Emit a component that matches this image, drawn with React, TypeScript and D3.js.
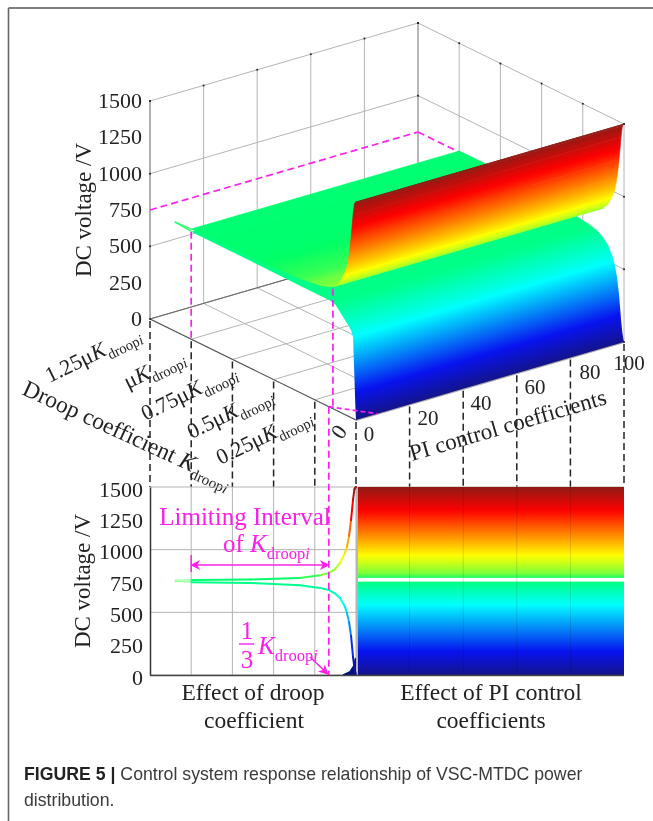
import React, { useEffect, useRef } from 'react';
import * as d3 from 'd3';

// values
const voltageTicks = [0, 250, 500, 750, 1000, 1250, 1500];
const voltageGrid = [0, 500, 1000, 1500];
const piTicks = [0, 20, 40, 60, 80, 100];
const droopTicks = [0, 0.25, 0.5, 0.75, 1, 1.25];
const droopPrefixes = ['', '0.25μ', '0.5μ', '0.75μ', 'μ', '1.25μ'];

// surface edges as they show in the 3D view (at PI = 0, the far edge follows the 2D curves)
const surfaceDroop = [1, 0.64, 0.34, 0.22, 0.164, 0.127, 0.097, 0.067, 0.055, 0.042, 0.03, 0.018, 0.01, 0.004, 0];
const upperVoltage = [758, 764, 785, 805, 825, 850, 894, 975, 1021, 1110, 1237, 1400, 1480, 1495, 1500];
const lowerSurfaceVoltage = [740, 738, 735, 735, 735, 725, 690, 650, 635, 620, 600, 560, 300, 100, 0];

// curves in the lower 2D panel
const panelUpperVoltage = [758, 762, 774, 795, 814, 845, 894, 975, 1021, 1110, 1237, 1400, 1480, 1495, 1500];
const panelLowerVoltage = [740, 734, 716, 695, 678, 650, 614, 545, 495, 420, 311, 144, 60, 20, 0];
const tipDroop = [1.1, 1];
const tipVoltage = [752, 750];
const baseDroop = [0.08, 0.04, 0.02, 0.008, 0];
const baseVoltage = [6, 30, 70, 130, 140];

const heatUpperRange = [775, 1500];
const heatLowerRange = [0, 745];
const droopLimit = 0.165;
const droopLip = 0.14;
const limitVoltage = 750;

const MAGENTA = '#fa20ea';
const SERIF = '"Liberation Serif", serif';

const colorScale = d3
  .scaleLinear<string>()
  .domain([0, 187, 562, 745, 770, 800, 950, 1312, 1500])
  .range(['#14148a', '#0812f0', '#00ffff', '#00ff80', '#00ff66', '#70ff40', '#ffff00', '#ff0000', '#8f1a14'])
  .clamp(true);

// the 3D box is a plain linear projection
const piX = d3.scaleLinear().domain([0, 100]).range([0, 268]);
const piY = d3.scaleLinear().domain([0, 100]).range([0, -78]);
const droopX = d3.scaleLinear().domain([0, 1.25]).range([0, -206]);
const droopY = d3.scaleLinear().domain([0, 1.25]).range([0, -101]);
const voltY = d3.scaleLinear().domain([0, 1500]).range([0, -218]);
const project = (pi: number, droop: number, v: number): [number, number] => [
  356 + piX(pi) + droopX(droop),
  420 + piY(pi) + droopY(droop) + voltY(v),
];

const panelX = (droop: number) => 356 + droopX(droop);
const panelY = d3.scaleLinear().domain([0, 1500]).range([675, 487]);

let gradId = 0;

const App = () => {
  const svgRef = useRef<SVGSVGElement>(null);

  useEffect(() => {
    d3.select(svgRef.current).selectAll('*').remove();
    const svg = d3.select(svgRef.current);
    const defs = svg.append('defs');
    const line = d3.line();

    const seg = (g: any, a: number[], b: number[], stroke: string, w: number, dash?: string) =>
      g
        .append('line')
        .attr('x1', a[0])
        .attr('y1', a[1])
        .attr('x2', b[0])
        .attr('y2', b[1])
        .attr('stroke', stroke)
        .attr('stroke-width', w)
        .attr('stroke-dasharray', dash || null);

    // frame
    seg(svg, [8.5, 8], [653, 8], '#555', 1.6);
    seg(svg, [8.5, 8], [8.5, 821], '#666', 1.6);

    // 3D grid
    const grid = svg.append('g');
    const GRID = '#b4b4b4';
    voltageGrid.forEach((v) => {
      seg(grid, project(0, 1.25, v), project(100, 1.25, v), GRID, 1);
      seg(grid, project(100, 1.25, v), project(100, 0, v), GRID, 1);
    });
    piTicks.forEach((p) => {
      seg(grid, project(p, 1.25, 0), project(p, 1.25, 1500), p === 100 ? '#777' : GRID, 1);
      seg(grid, project(p, 0, 0), project(p, 1.25, 0), GRID, 1);
    });
    droopTicks.forEach((d) => {
      seg(grid, project(100, d, 0), project(100, d, 1500), GRID, 1);
      seg(grid, project(0, d, 0), project(100, d, 0), GRID, 1);
    });
    seg(grid, project(0, 1.25, 0), project(0, 1.25, 1500), '#888', 1);
    seg(grid, project(0, 1.25, 0), project(100, 1.25, 0), '#666', 1);
    seg(grid, project(0, 1.25, 0), project(0, 0, 0), '#555', 1.1);
    seg(grid, project(0, 0, 0), project(100, 0, 0), '#aaa', 2);

    // tick dots on the top edges
    const dots = piTicks
      .map((p) => project(p, 1.25, 1500))
      .concat(droopTicks.map((d) => project(100, d, 1500)))
      .concat(voltageGrid.map((v) => project(100, 1.25, v)))
      .concat(voltageGrid.map((v) => project(100, 0, v)))
      .concat(voltageGrid.map((v) => project(0, 1.25, v)));
    grid
      .selectAll('circle')
      .data(dots)
      .enter()
      .append('circle')
      .attr('cx', (d) => d[0])
      .attr('cy', (d) => d[1])
      .attr('r', 1)
      .attr('fill', '#222');

    // limit level on the back walls
    const dashM = '7 4';
    seg(svg, project(0, 1.25, limitVoltage), project(100, 1.25, limitVoltage), MAGENTA, 1.7, dashM);
    seg(svg, project(100, 1.25, limitVoltage), project(100, 0.75, limitVoltage), MAGENTA, 1.7, dashM);

    const nx = 78 / Math.hypot(78, 268);
    const ny = 268 / Math.hypot(78, 268);

    // lower sheet: one outline, colour runs across the PI direction
    const drawLowerSurface = () => {
      const near = surfaceDroop.map((d, i) => project(0, d, lowerSurfaceVoltage[i]));
      const far = surfaceDroop.map((d, i) => project(100, d, panelLowerVoltage[i]));
      const first = near[0];
      const last = near[near.length - 1];
      const total = (last[0] - first[0]) * nx + (last[1] - first[1]) * ny;
      const gr = defs
        .append('linearGradient')
        .attr('id', 'lowerSheet')
        .attr('gradientUnits', 'userSpaceOnUse')
        .attr('x1', first[0])
        .attr('y1', first[1])
        .attr('x2', first[0] + total * nx)
        .attr('y2', first[1] + total * ny);
      const offset = (p: number[]) => ((p[0] - first[0]) * nx + (p[1] - first[1]) * ny) / total;
      near.forEach((p, i) => {
        if (i === near.length - 1) {
          gr.append('stop').attr('offset', 1).attr('stop-color', colorScale(0));
          return;
        }
        const q = near[i + 1];
        const val = d3.interpolateNumber(lowerSurfaceVoltage[i], lowerSurfaceVoltage[i + 1]);
        const off = d3.interpolateNumber(offset(p), offset(q));
        d3.range(0, 0.99, 0.1).forEach((t) => {
          gr.append('stop').attr('offset', off(t)).attr('stop-color', colorScale(val(t)));
        });
      });
      svg
        .append('path')
        .attr('d', line.curve(d3.curveLinearClosed)(near.concat(far.slice().reverse())))
        .attr('fill', 'url(#lowerSheet)');
    };

    // upper sheet: every droop strip runs over the whole PI range
    const drawUpperSurface = () => {
      const g = svg.append('g');
      for (let i = 0; i < surfaceDroop.length - 1; i++) {
        const d0 = surfaceDroop[i];
        const d1 = surfaceDroop[i + 1];
        const v0 = upperVoltage[i];
        const v1 = upperVoltage[i + 1];
        const a = project(0, d0, v0);
        const b = project(0, d1, v1);
        const along = (b[0] - a[0]) * nx + (b[1] - a[1]) * ny;
        const id = `strip${gradId++}`;
        const gr = defs
          .append('linearGradient')
          .attr('id', id)
          .attr('gradientUnits', 'userSpaceOnUse')
          .attr('x1', a[0])
          .attr('y1', a[1])
          .attr('x2', a[0] + along * nx)
          .attr('y2', a[1] + along * ny);
        const val = d3.interpolateNumber(v0, v1);
        d3.range(0, 1.01, 0.1).forEach((t) => {
          gr.append('stop').attr('offset', t).attr('stop-color', colorScale(val(t)));
        });
        const fill = Math.abs(along) < 0.5 ? colorScale((v0 + v1) / 2) : `url(#${id})`;
        g.append('path')
          .attr('d', line.curve(d3.curveLinearClosed)([a, project(100, d0, v0), project(100, d1, v1), b]))
          .attr('fill', fill)
          .attr('stroke', fill)
          .attr('stroke-width', 0.6);
      }
    };
    drawLowerSurface();
    drawUpperSurface();

    // little tip on the far end of the green sheet
    seg(svg, project(0, tipDroop[0], tipVoltage[0]), project(0, tipDroop[1], tipVoltage[1] + 8), '#30ff70', 1.4);
    seg(svg, project(0, tipDroop[0], tipVoltage[0]), project(0, tipDroop[1], tipVoltage[1] - 8), '#30ff70', 1.4);

    // magenta drops from the surface
    seg(svg, project(0, 1, 740), project(0, 1, 0), MAGENTA, 1.7, dashM);
    seg(svg, project(0, droopLip, 825), project(0, droopLip, 20), MAGENTA, 1.7, dashM);
    seg(svg, project(0, droopLimit, 0), project(8, 0, 0), MAGENTA, 1.7, '5 3');

    // black drop lines towards the lower panel
    const drops = svg.append('g');
    droopTicks.forEach((d) => {
      const p = project(0, d, 0);
      seg(drops, [p[0], p[1] + 2], [p[0], panelY(1500)], '#222', 1.5, '7 4');
    });
    piTicks.slice(1).forEach((t) => {
      const p = project(t, 0, 0);
      seg(drops, [p[0], p[1] + 2], [p[0], panelY(1500)], '#222', 1.5, '7 4');
    });

    const label = (txt: string, x: number, y: number, size: number, anchor = 'middle', rotate = 0) =>
      svg
        .append('text')
        .attr('transform', `translate(${x},${y}) rotate(${rotate})`)
        .attr('text-anchor', anchor)
        .attr('font-family', SERIF)
        .attr('font-size', size)
        .attr('fill', '#222')
        .text(txt);

    // adds K with droop_i subscript to a text element
    const addK = (t: any, size: number) => {
      t.append('tspan').attr('font-style', 'italic').text('K');
      t.append('tspan').attr('font-size', size * 0.66).attr('dy', size * 0.26).text('droop');
      t.append('tspan').attr('font-size', size * 0.66).attr('font-style', 'italic').text('i');
      return t;
    };

    // 3D voltage axis
    voltageTicks.forEach((v) => {
      const p = project(0, 1.25, v);
      label(String(v), p[0] - 8, p[1] + 7, 22, 'end');
    });
    label('DC voltage /V', 91, 210, 23, 'middle', -90);

    // droop tick labels
    const droopAnchors = [
      [0, 0],
      [313, 420],
      [274, 399],
      [238, 376],
      [186, 361],
      [142, 338],
    ];
    droopPrefixes.forEach((pre, i) => {
      if (i === 0) return;
      const t = label(pre, droopAnchors[i][0], droopAnchors[i][1], 22, 'end', -26);
      addK(t, 22);
    });
    label('0', 345, 436, 22, 'middle', -55);

    const piAnchors = [369, 428, 481, 535, 590, 629];
    piTicks.forEach((p, i) => {
      label(String(p), piAnchors[i], project(p, 0, 0)[1] + (i === 5 ? 28 : 21), 21);
    });
    label('PI control coefficients', 412, 461, 23, 'start', -16.3);

    const droopTitle = label('Droop coefficient ', 21, 394, 23.5, 'start', 24.6);
    addK(droopTitle, 23);

    // lower panel
    const panel = svg.append('g');
    voltageGrid.forEach((v) => seg(panel, [150, panelY(v)], [624, panelY(v)], GRID, 1));
    droopTicks.slice(0, 5).forEach((d) => seg(panel, [panelX(d), 487], [panelX(d), 675], GRID, 1));

    // heat map view of the surface
    const addHeat = (range: number[], id: string) => {
      const gr = defs
        .append('linearGradient')
        .attr('id', id)
        .attr('x1', 0)
        .attr('y1', 1)
        .attr('x2', 0)
        .attr('y2', 0);
      const val = d3.interpolateNumber(range[0], range[1]);
      d3.range(0, 1.001, 0.05).forEach((t) => {
        gr.append('stop').attr('offset', t).attr('stop-color', colorScale(val(t)));
      });
      panel
        .append('rect')
        .attr('x', 358)
        .attr('y', panelY(range[1]))
        .attr('width', 266)
        .attr('height', panelY(range[0]) - panelY(range[1]))
        .attr('fill', `url(#${id})`);
    };
    addHeat(heatUpperRange, 'heatUp');
    addHeat(heatLowerRange, 'heatLow');
    panel.append('rect').attr('x', 356).attr('y', 487).attr('width', 2).attr('height', 188).attr('fill', '#b5b5b5');
    piTicks.slice(1, 5).forEach((t) => {
      const x = project(t, 0, 0)[0];
      seg(panel, [x, 487], [x, 675], '#000', 0.5).attr('opacity', 0.25);
    });

    // blue foot at the bottom of the 2D curve
    panel
      .append('path')
      .attr(
        'd',
        d3
          .area<number>()
          .x((d) => panelX(d))
          .y0(panelY(0))
          .y1((_, i) => panelY(baseVoltage[i]))(baseDroop)
      )
      .attr('fill', '#00107f');

    // 2D curves, coloured piece by piece
    const drawCurve = (vals: number[]) => {
      for (let i = 0; i < surfaceDroop.length - 1; i++) {
        seg(
          panel,
          [panelX(surfaceDroop[i]), panelY(vals[i])],
          [panelX(surfaceDroop[i + 1]), panelY(vals[i + 1])],
          colorScale((vals[i] + vals[i + 1]) / 2),
          2
        ).attr('stroke-linecap', 'round');
      }
    };
    drawCurve(panelUpperVoltage);
    drawCurve(panelLowerVoltage);
    seg(panel, [panelX(tipDroop[0]), panelY(tipVoltage[0] + 6)], [panelX(tipDroop[1]), panelY(tipVoltage[1] + 8)], '#80ff90', 1);
    seg(panel, [panelX(tipDroop[0]), panelY(tipVoltage[0] - 6)], [panelX(tipDroop[1]), panelY(tipVoltage[1] - 8)], '#80ff90', 1);

    const yAxis = svg
      .append('g')
      .attr('transform', 'translate(150,0)')
      .call(d3.axisLeft(panelY).tickValues(voltageTicks).tickSize(0).tickPadding(7).tickFormat(d3.format('d')));
    yAxis.select('.domain').attr('stroke', '#333').attr('stroke-width', 1.5);
    yAxis
      .selectAll('text')
      .attr('font-family', SERIF)
      .attr('font-size', 22)
      .attr('fill', '#222')
      .attr('dy', '0.42em');
    seg(svg, [150, 675.5], [624, 675.5], '#444', 1.4);
    label('DC voltage /V', 90, 581, 23, 'middle', -90);
    label('Effect of droop', 253, 700, 23.5);
    label('coefficient', 254, 728, 23.5);
    label('Effect of PI control', 491, 700, 23.5);
    label('coefficients', 491, 728, 23.5);

    // magenta annotations
    const limitX = panelX(droopLimit);
    seg(svg, project(0, droopLimit, 0), [limitX, 675], MAGENTA, 1.7, dashM);
    defs
      .append('marker')
      .attr('id', 'mArrow')
      .attr('viewBox', '0 0 10 10')
      .attr('refX', 9)
      .attr('refY', 5)
      .attr('markerWidth', 12)
      .attr('markerHeight', 10)
      .attr('markerUnits', 'userSpaceOnUse')
      .attr('orient', 'auto-start-reverse')
      .append('path')
      .attr('d', 'M0,0L10,5L0,10L3,5Z')
      .attr('fill', MAGENTA);
    seg(svg, [panelX(1), 565], [limitX, 565], MAGENTA, 1.6)
      .attr('marker-start', 'url(#mArrow)')
      .attr('marker-end', 'url(#mArrow)');
    seg(svg, [panelX(1), 555], [panelX(1), 572], MAGENTA, 1.5);

    label('Limiting Interval', 245, 525, 25).attr('fill', MAGENTA);
    const ofK = label('of ', 223, 552, 25, 'start').attr('fill', MAGENTA);
    addK(ofK, 25);
    label('1', 247, 639, 25).attr('fill', MAGENTA);
    seg(svg, [239, 644], [254, 644], MAGENTA, 1.4);
    label('3', 247, 668, 25).attr('fill', MAGENTA);
    const third = label('', 258, 654, 25, 'start').attr('fill', MAGENTA);
    addK(third, 25);
    seg(svg, [310, 657], [limitX - 1, 674], MAGENTA, 1.5).attr('marker-end', 'url(#mArrow)');

    // caption
    const cap = svg
      .append('text')
      .attr('x', 24)
      .attr('y', 780)
      .attr('font-family', '"Liberation Sans", Arial, sans-serif')
      .attr('font-size', 17.7)
      .attr('fill', '#3a3a3a');
    cap.append('tspan').attr('font-weight', 'bold').attr('fill', '#222').text('FIGURE 5 | ');
    cap.append('tspan').text('Control system response relationship of VSC-MTDC power');
    svg
      .append('text')
      .attr('x', 24)
      .attr('y', 806)
      .attr('font-family', '"Liberation Sans", Arial, sans-serif')
      .attr('font-size', 17.7)
      .attr('fill', '#3a3a3a')
      .text('distribution.');
  }, []);

  return (
    <svg
      ref={svgRef}
      width={653}
      height={821}
      style={{ position: 'absolute', left: 0, top: 0, background: '#fff', filter: 'blur(0.35px)' }}
    ></svg>
  );
};

export default App;
